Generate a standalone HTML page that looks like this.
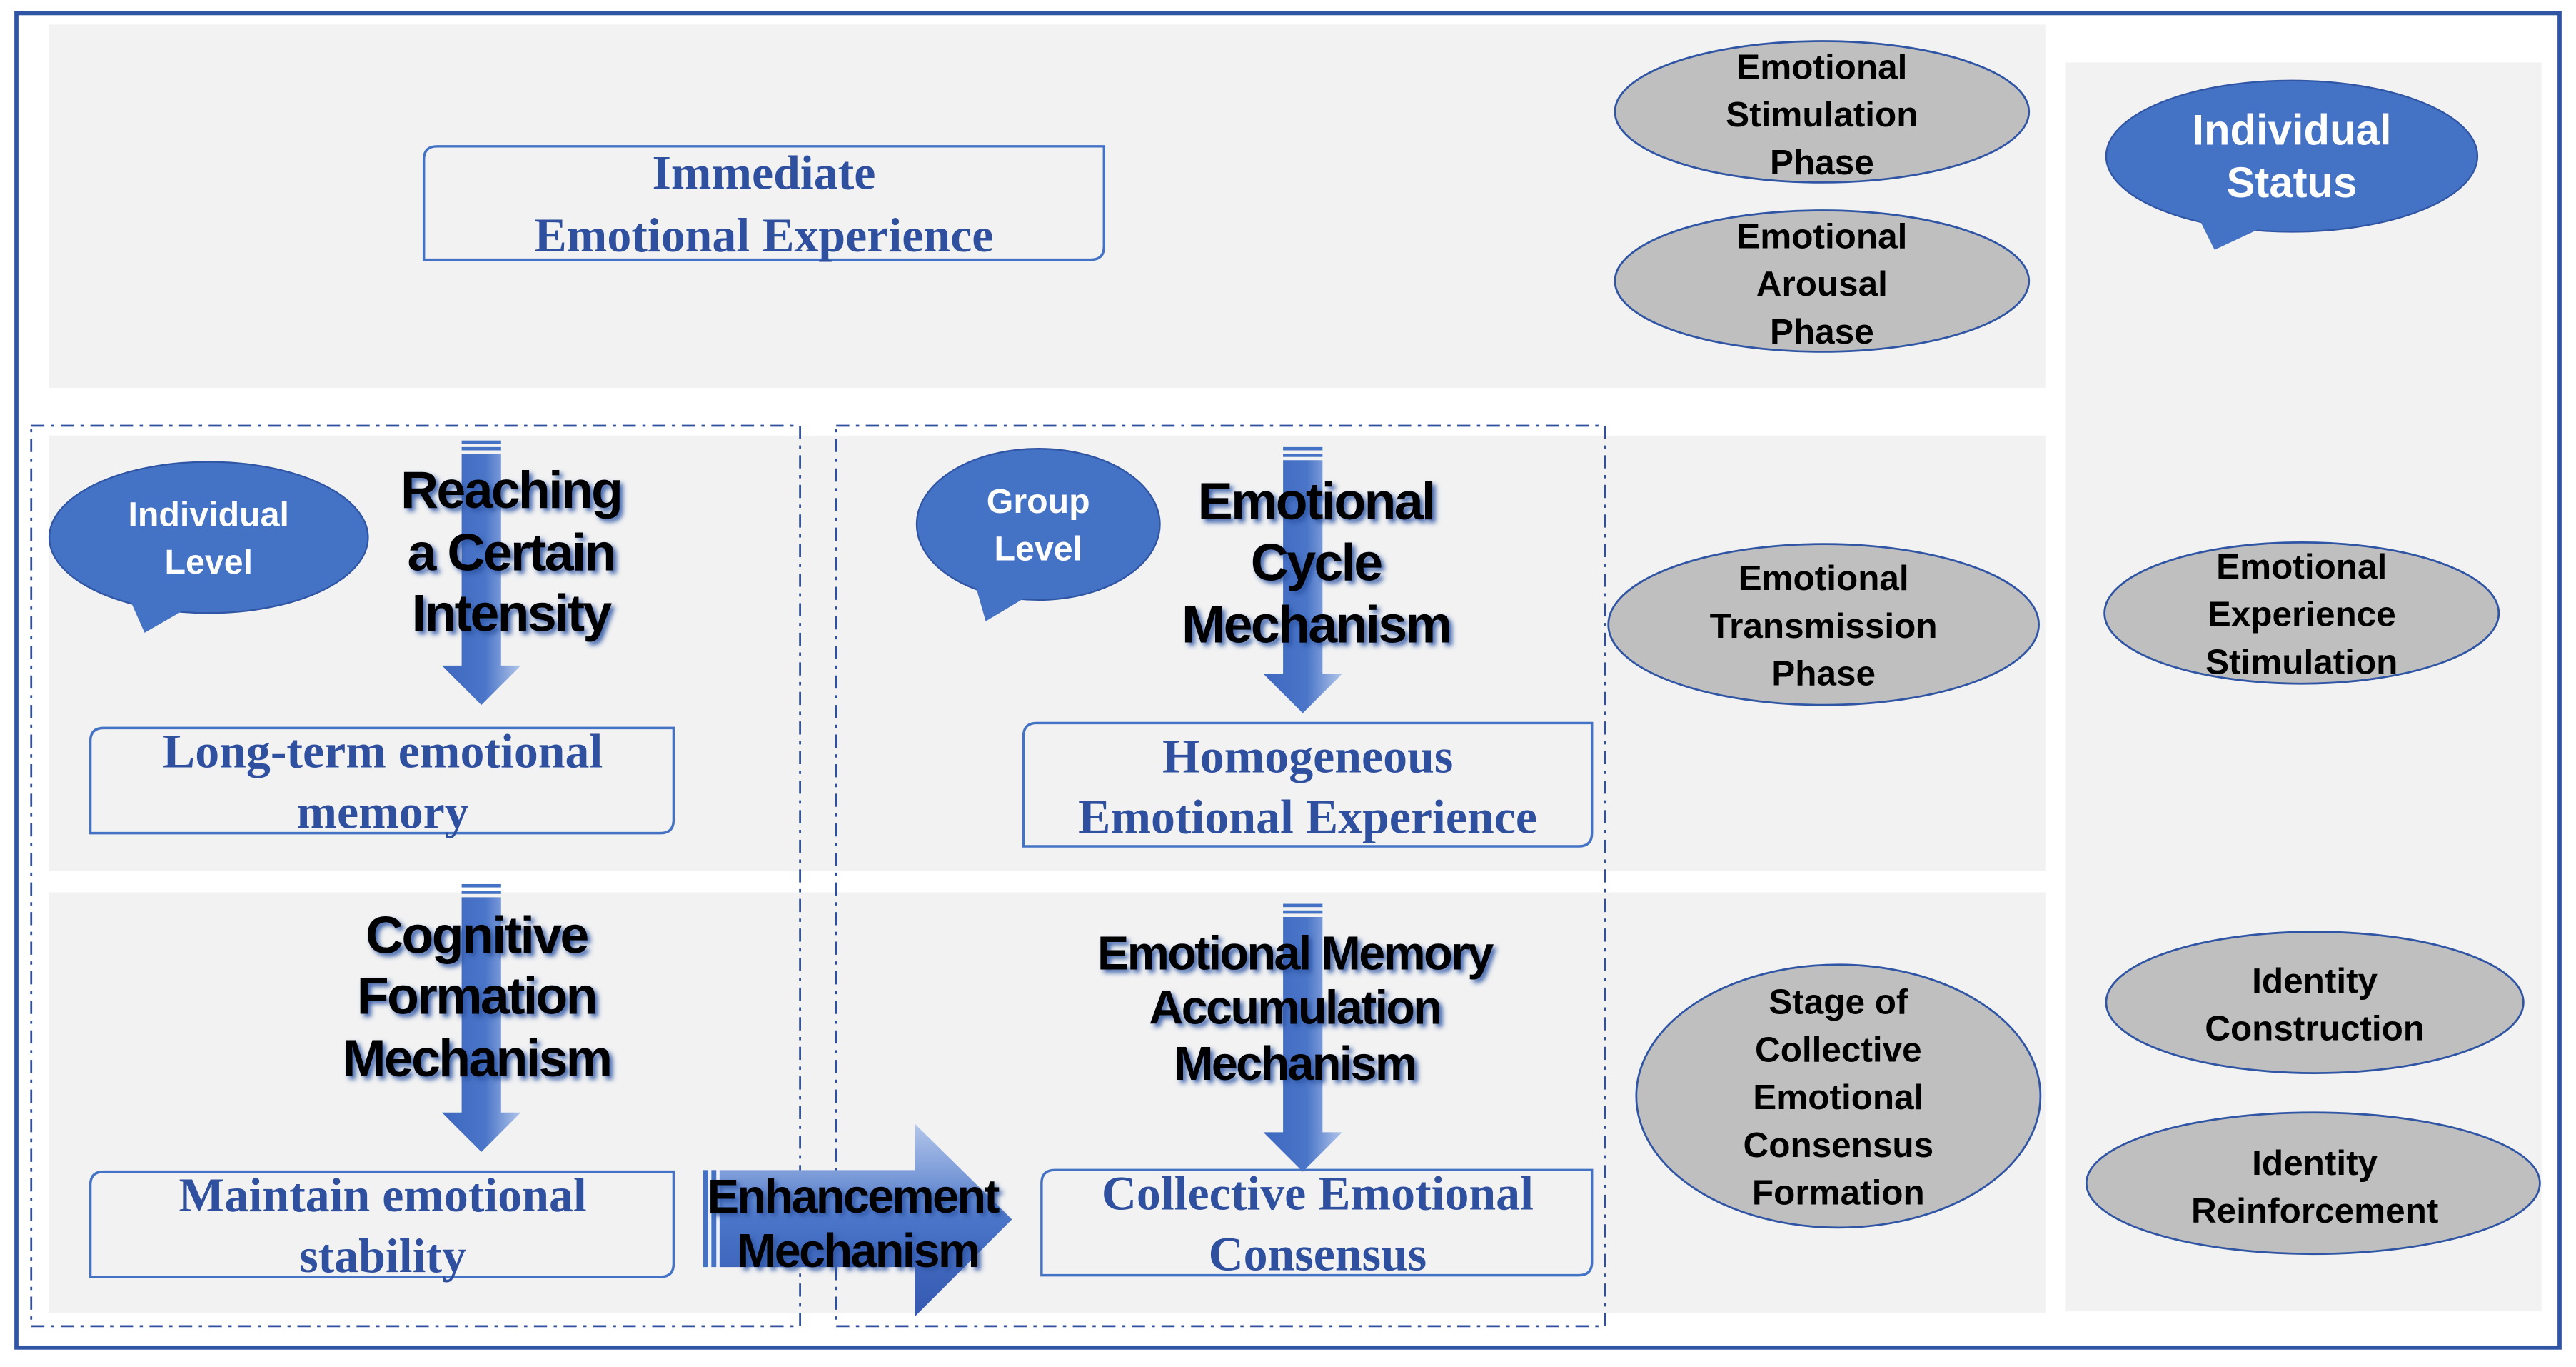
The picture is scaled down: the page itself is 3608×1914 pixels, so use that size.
<!DOCTYPE html>
<html><head><meta charset="utf-8"><style>
html,body{margin:0;padding:0;background:#fff;}
svg{display:block;}
.ph{font-family:"Liberation Sans",Arial,sans-serif;font-weight:bold;font-size:21.5px;fill:#000;text-anchor:middle;}
.wh{font-family:"Liberation Sans",Arial,sans-serif;font-weight:bold;fill:#fff;text-anchor:middle;}
.sf{font-family:"Liberation Serif","Times New Roman",serif;font-weight:bold;font-size:29.5px;fill:#2f4f9f;text-anchor:middle;}
.big{font-family:"Liberation Sans",Arial,sans-serif;font-weight:bold;font-size:32px;fill:#000;text-anchor:middle;filter:url(#sh);letter-spacing:-1.2px;}
</style></head><body>
<svg width="3608" height="1914" viewBox="0 0 1568 831.8" xmlns="http://www.w3.org/2000/svg">
<defs>
<linearGradient id="gv" x1="0" x2="1" y1="0" y2="0"><stop offset="0" stop-color="#3f68bf"/><stop offset="0.55" stop-color="#4a75c8"/><stop offset="1" stop-color="#b3c6ea"/></linearGradient>
<linearGradient id="gh" x1="0" x2="0" y1="0" y2="1"><stop offset="0" stop-color="#b3c6ea"/><stop offset="0.5" stop-color="#4a75c8"/><stop offset="1" stop-color="#3558b0"/></linearGradient>
<filter id="sh" x="-20%" y="-20%" width="140%" height="140%"><feDropShadow dx="2" dy="2" stdDeviation="1.5" flood-color="#2f55a4" flood-opacity="0.9"/></filter>
</defs>
<rect x="0" y="0" width="1568" height="832" fill="#fff"/>
<rect x="10" y="8" width="1548" height="812" fill="none" stroke="#2f55a4" stroke-width="2.5"/>
<rect x="30" y="15" width="1215" height="221" fill="#f2f2f2"/>
<rect x="1257" y="38" width="290" height="760" fill="#f2f2f2"/>
<rect x="30" y="265" width="1215" height="265" fill="#f2f2f2"/>
<rect x="30" y="543" width="1215" height="256" fill="#f2f2f2"/>
<rect x="19" y="259" width="468" height="548" fill="none" stroke="#2f4f9f" stroke-width="1.2" stroke-dasharray="8,4,2,4"/>
<rect x="509" y="259" width="468" height="548" fill="none" stroke="#2f4f9f" stroke-width="1.2" stroke-dasharray="8,4,2,4"/>

<!-- boxes -->
<path d="M258,158 V97 Q258,89 266,89 H672 V150 Q672,158 664,158 Z" fill="#f2f2f2" stroke="#4472c4" stroke-width="1.5"/>
<text class="sf" x="465" y="115">Immediate</text><text class="sf" x="465" y="153">Emotional Experience</text>
<path d="M55,507 V451 Q55,443 63,443 H410 V499 Q410,507 402,507 Z" fill="#f2f2f2" stroke="#4472c4" stroke-width="1.5"/>
<text class="sf" x="233" y="467">Long-term emotional</text><text class="sf" x="233" y="504">memory</text>
<path d="M623,515 V448 Q623,440 631,440 H969 V507 Q969,515 961,515 Z" fill="#f2f2f2" stroke="#4472c4" stroke-width="1.5"/>
<text class="sf" x="796" y="470">Homogeneous</text><text class="sf" x="796" y="507">Emotional Experience</text>
<path d="M55,777 V721 Q55,713 63,713 H410 V769 Q410,777 402,777 Z" fill="#f2f2f2" stroke="#4472c4" stroke-width="1.5"/>
<text class="sf" x="233" y="737">Maintain emotional</text><text class="sf" x="233" y="774">stability</text>
<path d="M634,776 V720 Q634,712 642,712 H969 V768 Q969,776 961,776 Z" fill="#f2f2f2" stroke="#4472c4" stroke-width="1.5"/>
<text class="sf" x="802" y="736">Collective Emotional</text><text class="sf" x="802" y="773">Consensus</text>

<!-- ellipses -->
<g fill="#bfbfbf" stroke="#2f55a4" stroke-width="1.2">
<ellipse cx="1109" cy="68" rx="126" ry="43"/>
<ellipse cx="1109" cy="171" rx="126" ry="43"/>
<ellipse cx="1110" cy="380" rx="131" ry="49"/>
<ellipse cx="1119" cy="667" rx="123" ry="80"/>
<ellipse cx="1401" cy="373" rx="120" ry="43"/>
<ellipse cx="1409" cy="610" rx="127" ry="43"/>
<ellipse cx="1408" cy="720" rx="138" ry="43"/>
</g>
<text class="ph" x="1109" y="48">Emotional</text><text class="ph" x="1109" y="77">Stimulation</text><text class="ph" x="1109" y="106">Phase</text>
<text class="ph" x="1109" y="151">Emotional</text><text class="ph" x="1109" y="180">Arousal</text><text class="ph" x="1109" y="209">Phase</text>
<text class="ph" x="1110" y="359">Emotional</text><text class="ph" x="1110" y="388">Transmission</text><text class="ph" x="1110" y="417">Phase</text>
<text class="ph" x="1119" y="617">Stage of</text><text class="ph" x="1119" y="646">Collective</text><text class="ph" x="1119" y="675">Emotional</text><text class="ph" x="1119" y="704">Consensus</text><text class="ph" x="1119" y="733">Formation</text>
<text class="ph" x="1401" y="352">Emotional</text><text class="ph" x="1401" y="381">Experience</text><text class="ph" x="1401" y="410">Stimulation</text>
<text class="ph" x="1409" y="604">Identity</text><text class="ph" x="1409" y="633">Construction</text>
<text class="ph" x="1409" y="715">Identity</text><text class="ph" x="1409" y="744">Reinforcement</text>

<!-- speech bubbles -->
<g fill="#4472c4" stroke="#2f55a4" stroke-width="1">
<ellipse cx="1395" cy="95" rx="113" ry="46"/>
<path d="M1336,128 L1348,152 L1378,138 Z" stroke="none"/>
<ellipse cx="127" cy="327" rx="97" ry="46"/>
<path d="M76,358 L88,385 L114,370 Z" stroke="none"/>
<ellipse cx="632" cy="319" rx="74" ry="46"/>
<path d="M592,350 L600,378 L625,363 Z" stroke="none"/>
</g>
<text class="wh" style="font-size:26px" x="1395" y="88">Individual</text><text class="wh" style="font-size:26px" x="1395" y="120">Status</text>
<text class="wh" style="font-size:21px" x="127" y="320">Individual</text><text class="wh" style="font-size:21px" x="127" y="349">Level</text>
<text class="wh" style="font-size:21px" x="632" y="312">Group</text><text class="wh" style="font-size:21px" x="632" y="341">Level</text>

<!-- down arrows -->
<g fill="url(#gv)">
<path d="M281,276 H305 V405 H317 L293,429 L269,405 H281 Z"/>
<path d="M781,280 H805 V410 H817 L793,434 L769,410 H781 Z"/>
<path d="M281,546 H305 V677 H317 L293,701 L269,677 H281 Z"/>
<path d="M781,558 H805 V689 H817 L793,713 L769,689 H781 Z"/>
</g>
<g fill="#4472c4">
<rect x="281" y="268" width="24" height="2"/><rect x="281" y="272" width="24" height="2"/>
<rect x="781" y="272" width="24" height="2"/><rect x="781" y="276" width="24" height="2"/>
<rect x="281" y="538" width="24" height="2"/><rect x="281" y="542" width="24" height="2"/>
<rect x="781" y="550" width="24" height="2"/><rect x="781" y="554" width="24" height="2"/>
</g>
<!-- right arrow -->
<path d="M438,712 H557 V684 L616,742 L557,801 V771 H438 Z" fill="url(#gh)"/>
<rect x="428" y="712" width="3" height="59" fill="#4472c4"/><rect x="433" y="712" width="3" height="59" fill="#4472c4"/>

<text class="big" x="311" y="309">Reaching</text><text class="big" x="311" y="347">a Certain</text><text class="big" x="311" y="384">Intensity</text>
<text class="big" x="801" y="316">Emotional</text><text class="big" x="801" y="353">Cycle</text><text class="big" x="801" y="391">Mechanism</text>
<text class="big" x="290" y="580">Cognitive</text><text class="big" x="290" y="617">Formation</text><text class="big" x="290" y="655">Mechanism</text>
<text class="big" style="font-size:29px" x="788" y="590">Emotional Memory</text><text class="big" style="font-size:29px" x="788" y="623">Accumulation</text><text class="big" style="font-size:29px" x="788" y="657">Mechanism</text>
<text class="big" style="font-size:29px" x="519" y="738">Enhancement</text><text class="big" style="font-size:29px" x="522" y="771">Mechanism</text>
</svg>
</body></html>
